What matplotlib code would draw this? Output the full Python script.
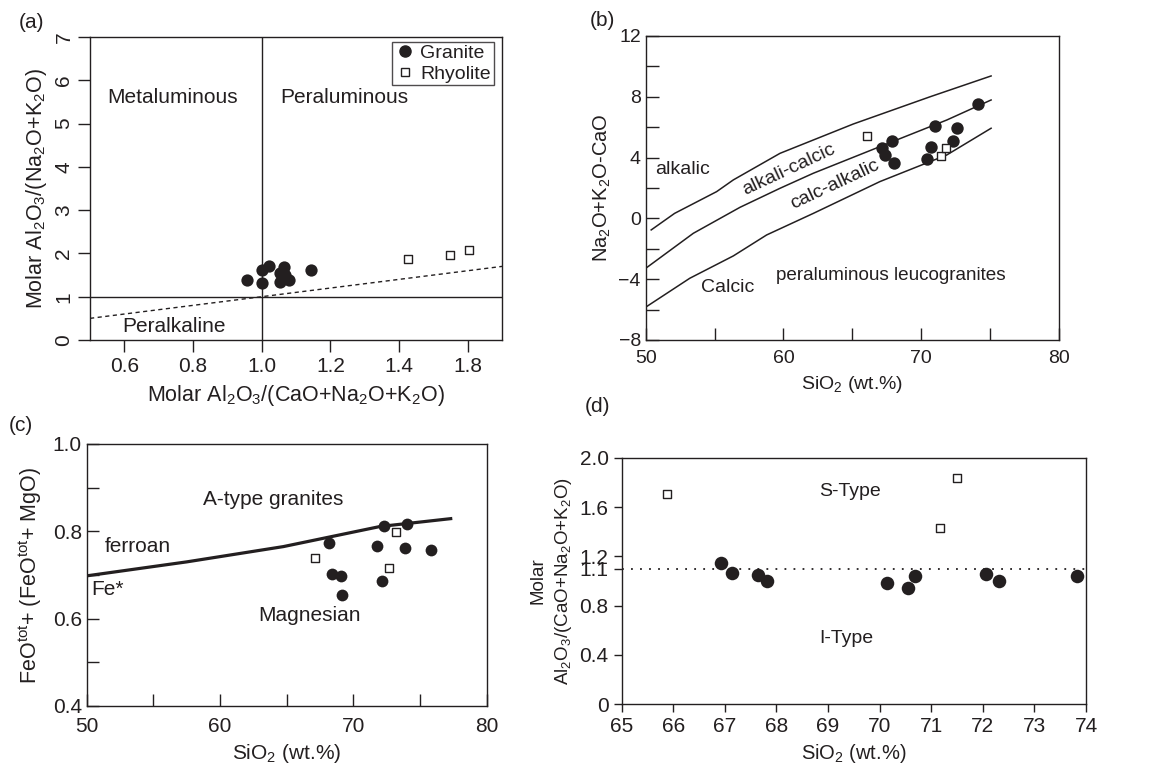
import matplotlib
matplotlib.use("Agg")
import matplotlib.pyplot as plt
from matplotlib.lines import Line2D

plt.rcParams["font.family"] = ["Liberation Sans", "DejaVu Sans"]
plt.rcParams["mathtext.fontset"] = "custom"
plt.rcParams["mathtext.rm"] = "Liberation Sans"
plt.rcParams["mathtext.it"] = "Liberation Sans"
INK = "#231f20"

# (a) A/CNK vs A/NK
a_gr_x = [0.957, 1.0, 1.021, 1.002, 1.066, 1.053, 1.068, 1.053, 1.079, 1.143]
a_gr_y = [1.385, 1.615, 1.715, 1.31, 1.69, 1.54, 1.50, 1.345, 1.385, 1.615]
a_rh_x = [1.427, 1.549, 1.604]
a_rh_y = [1.88, 1.96, 2.09]
a_xticks = [0.6, 0.8, 1.0, 1.2, 1.4, 1.6]
a_xticklabels = ["0.6", "0.8", "1.0", "1.2", "1.4", "1.8"]

# (b) MALI vs SiO2
b_top_x = [50.4, 52.1, 55.15, 56.36, 59.75, 65.07, 70.64, 75.07]
b_top_y = [-0.76, 0.33, 1.76, 2.53, 4.28, 6.21, 8.0, 9.37]
b_mid_x = [50.07, 53.46, 56.85, 59.75, 62.17, 67.0, 71.85, 75.07]
b_mid_y = [-3.24, -0.98, 0.73, 1.98, 2.97, 4.72, 6.47, 7.79]
b_low_x = [50.07, 53.2, 56.36, 58.78, 62.17, 67.0, 71.85, 75.07]
b_low_y = [-5.8, -3.94, -2.47, -1.09, 0.33, 2.42, 4.17, 5.93]
b_gr_x = [74.15, 71.0, 72.57, 67.86, 67.13, 67.37, 68.03, 70.71, 70.4, 72.33]
b_gr_y = [7.53, 6.08, 5.93, 5.11, 4.61, 4.17, 3.62, 4.72, 3.89, 5.11]
b_rh_x = [66.04, 71.41, 71.78]
b_rh_y = [5.42, 4.13, 4.61]

# (c) Fe* vs SiO2
c_line_x = [50.0, 57.5, 64.75, 72.0, 77.3]
c_line_y = [0.698, 0.73, 0.765, 0.811, 0.829]
c_gr_x = [68.2, 72.3, 74.0, 71.75, 73.88, 75.83, 68.38, 69.05, 69.18, 72.18]
c_gr_y = [0.774, 0.812, 0.816, 0.767, 0.761, 0.757, 0.702, 0.698, 0.655, 0.687]
c_rh_x = [67.1, 73.2, 72.7]
c_rh_y = [0.740, 0.799, 0.715]

# (d) A/CNK vs SiO2
d_gr_x = [66.93, 67.13, 67.64, 67.81, 70.15, 70.54, 70.68, 72.07, 72.32, 73.82]
d_gr_y = [1.143, 1.062, 1.049, 1.003, 0.986, 0.94, 1.04, 1.057, 1.0, 1.04]
d_rh_x = [65.87, 71.5, 71.17]
d_rh_y = [1.703, 1.832, 1.427]
d_yticks = [0, 0.4, 0.8, 1.1, 1.2, 1.6, 2.0]
d_yticklabels = ["0", "0.4", "0.8", "1.1", "1.2", "1.6", "2.0"]

fig = plt.figure(figsize=(11.68, 7.72), dpi=100)
ax_a = fig.add_axes([0.0771, 0.5596, 0.3527, 0.3925])
ax_b = fig.add_axes([0.5528, 0.5596, 0.3539, 0.3938])
ax_c = fig.add_axes([0.0742, 0.0855, 0.3425, 0.3394])
ax_d = fig.add_axes([0.5323, 0.0877, 0.3975, 0.3194])

for ax in (ax_a, ax_b, ax_c, ax_d):
    for sp in ax.spines.values():
        sp.set_linewidth(1.0)
        sp.set_color(INK)
    ax.tick_params(colors=INK, labelcolor=INK, width=1.0, length=6, labelsize=14)


def scatter(ax, gx, gy, rx, ry, gs=80, rs=36):
    ax.scatter(gx, gy, s=gs, c=INK, marker="o", linewidths=0, zorder=4)
    ax.scatter(rx, ry, s=rs, facecolors="white", edgecolors=INK, marker="s",
               linewidths=1.0, zorder=5)


# (a)
ax_a.axvline(1.0, color=INK, lw=1.0)
ax_a.axhline(1.0, color=INK, lw=1.0)
ax_a.plot([0.5, 1.7], [0.5, 1.7], color=INK, lw=1.0, ls=(0, (3, 2.5)))
scatter(ax_a, a_gr_x, a_gr_y, a_rh_x, a_rh_y, gs=78, rs=36)
ax_a.set_xlim(0.5, 1.7)
ax_a.set_ylim(0, 7)
ax_a.set_xticks(a_xticks)
ax_a.set_xticklabels(a_xticklabels)
ax_a.set_yticks(range(8))
ax_a.tick_params(labelsize=15, length=8.5)
ax_a.tick_params(axis="y", labelrotation=90)
for lab in ax_a.get_yticklabels():
    lab.set_va("center")
ax_a.set_xlabel(r"Molar Al$_2$O$_3$/(CaO+Na$_2$O+K$_2$O)", fontsize=15.5, color=INK, labelpad=5)
ax_a.set_ylabel(r"Molar Al$_2$O$_3$/(Na$_2$O+K$_2$O)", fontsize=15.5, color=INK, labelpad=4)
ax_a.text(0.74, 5.6, "Metaluminous", fontsize=15, ha="center", va="center", color=INK)
ax_a.text(1.24, 5.6, "Peraluminous", fontsize=15, ha="center", va="center", color=INK)
ax_a.text(0.745, 0.31, "Peralkaline", fontsize=15, ha="center", va="center", color=INK)
handles = [
    Line2D([], [], ls="none", marker="o", ms=8, mfc=INK, mec=INK, label="Granite"),
    Line2D([], [], ls="none", marker="s", ms=6, mfc="white", mec=INK, mew=1.0, label="Rhyolite"),
]
leg = ax_a.legend(handles=handles, loc="upper right", bbox_to_anchor=(0.98, 0.985),
                  fontsize=14, frameon=True, fancybox=False, handlelength=1.0,
                  handletextpad=0.3, borderpad=0.15, labelspacing=0.15, borderaxespad=0.0)
leg.get_frame().set_edgecolor(INK)
leg.get_frame().set_linewidth(1.0)
for t in leg.get_texts():
    t.set_color(INK)

# (b)
for xs, ys in ((b_top_x, b_top_y), (b_mid_x, b_mid_y), (b_low_x, b_low_y)):
    ax_b.plot(xs, ys, color=INK, lw=1.1)
scatter(ax_b, b_gr_x, b_gr_y, b_rh_x, b_rh_y, gs=80, rs=32)
ax_b.set_xlim(50, 80)
ax_b.set_ylim(-8, 12)
ax_b.set_xticks(range(50, 81, 5))
ax_b.set_xticklabels([str(v) if v % 10 == 0 else "" for v in range(50, 81, 5)])
ax_b.set_yticks(range(-8, 13, 2))
ax_b.set_yticklabels([("\u22128" if v == -8 else "\u22124" if v == -4 else str(v))
                      if v % 4 == 0 else "" for v in range(-8, 13, 2)])
ax_b.tick_params(direction="in", length=9, labelsize=14)
ax_b.tick_params(axis="x", pad=7)
ax_b.set_xlabel(r"SiO$_2$ (wt.%)", fontsize=14, color=INK, labelpad=5)
ax_b.set_ylabel(r"Na$_2$O+K$_2$O-CaO", fontsize=14.5, color=INK, labelpad=4)
ax_b.text(52.7, 3.23, "alkalic", fontsize=14, ha="center", va="center", color=INK)
ax_b.text(60.36, 3.18, "alkali-calcic", fontsize=14, ha="center", va="center", color=INK, rotation=25)
ax_b.text(63.74, 2.2, "calc-alkalic", fontsize=14, ha="center", va="center", color=INK, rotation=25)
ax_b.text(55.93, -4.54, "Calcic", fontsize=14, ha="center", va="center", color=INK)
ax_b.text(67.78, -3.79, "peraluminous leucogranites", fontsize=13.6, ha="center", va="center", color=INK)

# (c)
ax_c.plot(c_line_x, c_line_y, color=INK, lw=2.3)
scatter(ax_c, c_gr_x, c_gr_y, c_rh_x, c_rh_y, gs=72, rs=40)
ax_c.set_xlim(50, 80)
ax_c.set_ylim(0.4, 1.0)
ax_c.set_xticks(range(50, 81, 5))
ax_c.set_xticklabels([str(v) if v % 10 == 0 else "" for v in range(50, 81, 5)])
ax_c.set_yticks([0.4, 0.5, 0.6, 0.7, 0.8, 0.9, 1.0])
ax_c.set_yticklabels(["0.4", "", "0.6", "", "0.8", "", "1.0"])
ax_c.tick_params(direction="in", length=8.5, labelsize=15)
ax_c.tick_params(axis="x", pad=8)
ax_c.set_xlabel(r"SiO$_2$ (wt.%)", fontsize=15, color=INK, labelpad=4)
ax_c.set_ylabel(r"FeO$^{\rm tot}$+ (FeO$^{\rm tot}$+ MgO)", fontsize=15.5, color=INK, labelpad=6)
ax_c.text(64.0, 0.873, "A-type granites", fontsize=15, ha="center", va="center", color=INK)
ax_c.text(53.8, 0.766, "ferroan", fontsize=15, ha="center", va="center", color=INK)
ax_c.text(51.55, 0.667, "Fe*", fontsize=15, ha="center", va="center", color=INK)
ax_c.text(66.7, 0.608, "Magnesian", fontsize=15, ha="center", va="center", color=INK)

# (d)
ax_d.axhline(1.1, color=INK, lw=1.3, ls=(0, (1, 4)))
scatter(ax_d, d_gr_x, d_gr_y, d_rh_x, d_rh_y, gs=95, rs=30)
ax_d.set_xlim(65, 74)
ax_d.set_ylim(0, 2.0)
ax_d.set_xticks(range(65, 75))
ax_d.set_yticks(d_yticks)
ax_d.set_yticklabels(d_yticklabels)
ax_d.tick_params(direction="out", length=6, labelsize=15)
ax_d.set_xlabel(r"SiO$_2$ (wt.%)", fontsize=14.5, color=INK, labelpad=4)
ax_d.set_ylabel("Molar\n" + r"Al$_2$O$_3$/(CaO+Na$_2$O+K$_2$O)", fontsize=13.5, color=INK,
                labelpad=4, linespacing=1.4)
ax_d.text(69.42, 1.73, "S-Type", fontsize=14, ha="center", va="center", color=INK)
ax_d.text(69.36, 0.535, "I-Type", fontsize=14, ha="center", va="center", color=INK)

# panel letters
for lbl, px, py in (("(a)", 32, 22), ("(b)", 602, 20), ("(c)", 21, 426), ("(d)", 597, 406)):
    fig.text(px / 1168, 1 - py / 772, lbl, fontsize=15, ha="center", va="center", color=INK)

fig.savefig("out.png", dpi=100)
